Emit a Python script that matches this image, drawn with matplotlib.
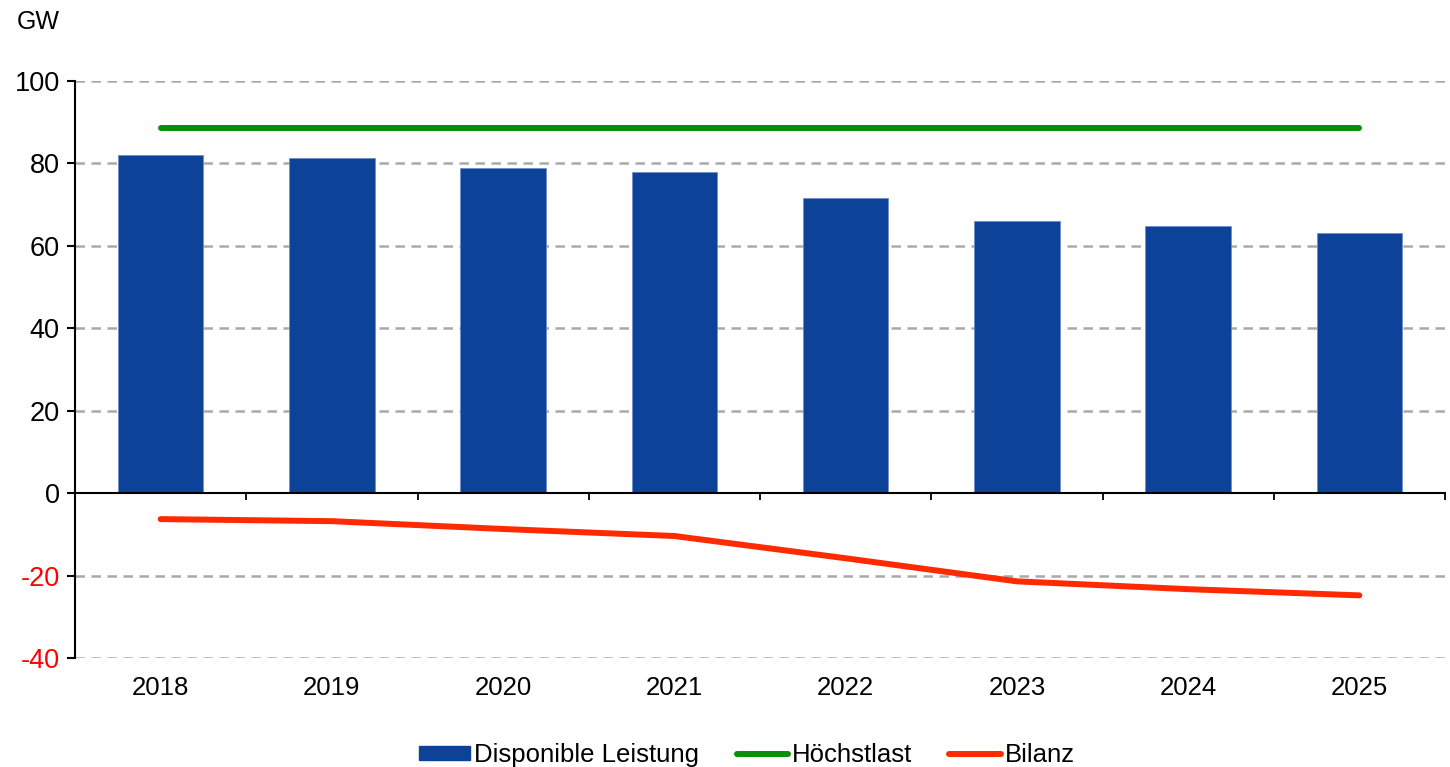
import matplotlib
matplotlib.use("Agg")
import matplotlib.pyplot as plt
from matplotlib.patches import Patch
from matplotlib.lines import Line2D
import numpy as np

plt.rcParams['font.family'] = ['Liberation Sans', 'DejaVu Sans']

years = ['2018', '2019', '2020', '2021', '2022', '2023', '2024', '2025']
disponible = [82.0, 81.4, 79.0, 77.8, 71.6, 66.0, 64.8, 63.1]
hoechstlast = [88.5, 88.5, 88.5, 88.5, 88.5, 88.5, 88.5, 88.5]
bilanz = [-6.3, -6.8, -8.7, -10.4, -15.8, -21.4, -23.3, -24.8]
yticks = [100, 80, 60, 40, 20, 0, -20, -40]

BLUE = '#0d4299'
GREEN = '#089108'
RED = '#ff2a00'

fig = plt.figure(figsize=(14.5, 7.67), dpi=100)
ax = fig.add_axes([75 / 1450, 1 - 658 / 767, 1370 / 1450, (658 - 81) / 767])

x = np.arange(len(years))
ax.bar(x, disponible, width=0.5, color=BLUE, edgecolor='#6f8fcc', linewidth=0.6, zorder=3)
ax.plot(x, hoechstlast, color=GREEN, lw=4.3, solid_capstyle='round', zorder=4)
ax.plot(x, bilanz, color=RED, lw=4.3, solid_capstyle='round', zorder=4)

ax.set_xlim(-0.5, 7.5)
ax.set_ylim(-40, 100)

# grid lines (dashed) except at zero
for t in yticks:
    if t != 0:
        ax.axhline(t, color='#aaaaaa', lw=1.8, ls=(0, (3.8, 2.6)), zorder=1)

ax.spines['top'].set_visible(False)
ax.spines['right'].set_visible(False)
ax.spines['bottom'].set_position(('data', 0))
ax.spines['bottom'].set_linewidth(1.5)
ax.spines['left'].set_linewidth(1.5)
ax.spines['bottom'].set_zorder(5)

ax.set_xticks(np.arange(0.5, 8.0, 1.0))
ax.set_xticklabels([])
ax.tick_params(axis='x', direction='out', length=5, width=1.3)
ax.set_yticks(yticks)
ax.set_yticklabels([str(t) for t in yticks], fontsize=19.5)
ax.tick_params(axis='y', direction='out', length=6, width=1.5, pad=5)
for lbl, t in zip(ax.get_yticklabels(), yticks):
    if t < 0:
        lbl.set_color('red')

for i, yr in enumerate(years):
    ax.text(i, -47.3, yr, ha='center', va='center', fontsize=18.5)

fig.text(17 / 1450, 1 - 22 / 767, 'GW', ha='left', va='center', fontsize=18)

handles = [Patch(facecolor=BLUE, edgecolor=BLUE),
           Line2D([0], [0], color=GREEN, lw=4.3, solid_capstyle='round'),
           Line2D([0], [0], color=RED, lw=4.3, solid_capstyle='round')]
fig.legend(handles, ['Disponible Leistung', 'Höchstlast', 'Bilanz'],
           loc='center', bbox_to_anchor=(0.515, 1 - 755 / 767), ncol=3,
           frameon=False, fontsize=18.5, handlelength=2.0, handleheight=0.47,
           handletextpad=0.15, columnspacing=1.45)

fig.savefig('out.png', dpi=100)
